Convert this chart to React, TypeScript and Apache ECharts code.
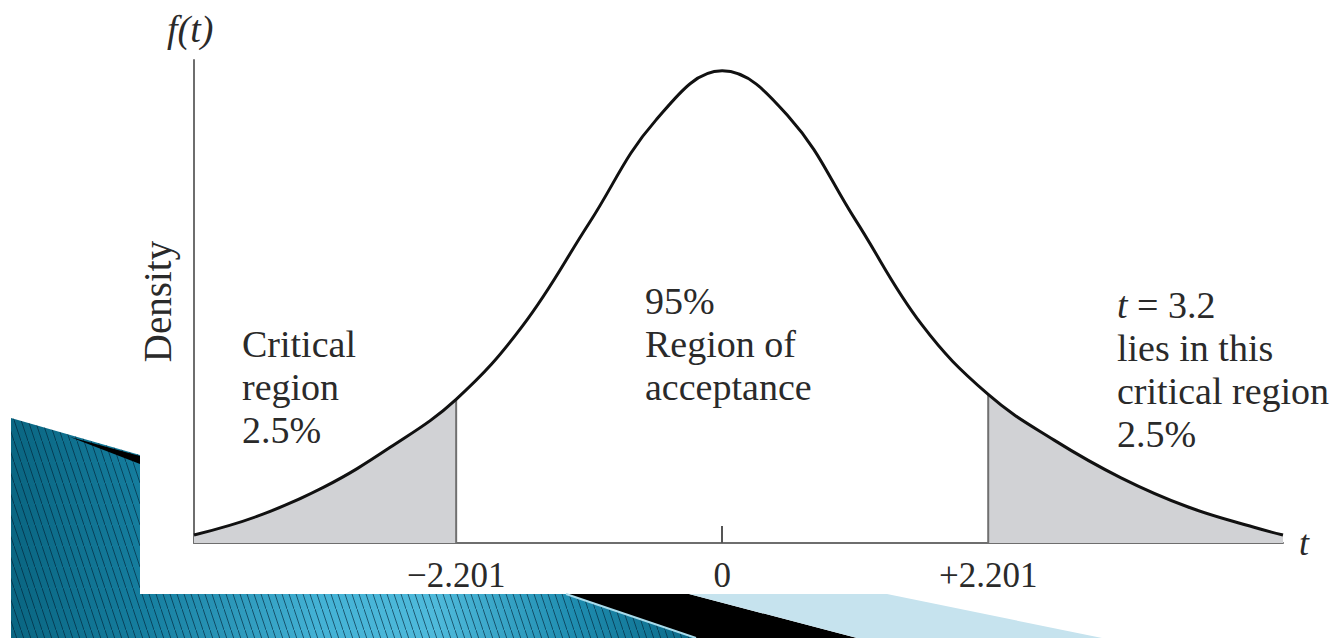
import React, { useEffect, useRef } from "react";
import * as echarts from "echarts";

// Curve: t value and density height
const tValues = [-4.37, -3.85, -3.3, -2.75, -2.201, -1.65, -1.1, -0.55, 0, 0.55, 1.1, 1.65, 2.201, 2.75, 3.3, 3.85, 4.4, 4.64];
const density = [0.0066, 0.022, 0.046, 0.079, 0.119, 0.18, 0.265, 0.35, 0.391, 0.353, 0.268, 0.181, 0.123, 0.085, 0.054, 0.03, 0.013, 0.0066];
const criticalValue = 2.201;
const tickValues = [-2.201, 0, 2.201];
const tickLabels = ["\u22122.201", "0", "+2.201"];
const markedTicks = [0];
const leftNote = ["Critical", "region", "2.5%"];
const middleNote = ["95%", "Region of", "acceptance"];
const rightNote = ["{i|t} = 3.2", "lies in this", "critical region", "2.5%"];

const FONT = '"Liberation Serif", "Times New Roman", serif';
const TEXT = "#2a2a2a";

export default function App() {
  const ref = useRef<HTMLDivElement>(null);
  useEffect(() => {
    if (!ref.current) return;
    const chart = echarts.init(ref.current, null, { renderer: "svg" });
    const curve = tValues.map((t, i) => [t, density[i]]);
    const leftTail = curve.filter((p) => p[0] <= -criticalValue + 1e-9);
    const rightTail = curve.filter((p) => p[0] >= criticalValue - 1e-9);
    const leftEdge = leftTail[leftTail.length - 1][1];
    const rightEdge = rightTail[0][1];

    const c = document.createElement("canvas");
    c.width = 7;
    c.height = 21;
    const ctx = c.getContext("2d");
    if (ctx) {
      ctx.strokeStyle = "rgba(0,30,50,0.6)";
      ctx.lineWidth = 1;
      ctx.beginPath();
      ctx.moveTo(0, 0);
      ctx.lineTo(7, 21);
      ctx.stroke();
    }
    const stripe = c.toDataURL();

    const tealPts = [[11, 418], [140, 455], [140, 594], [566, 594], [696, 638], [11, 638]];

    const textEl = (lines: string[], x: number, y: number, rich?: any) => ({
      type: "text",
      x,
      y,
      z: 10,
      style: {
        text: lines.join("\n"),
        fontFamily: FONT,
        fontSize: 38,
        lineHeight: 43,
        fill: TEXT,
        rich,
      },
    });

    chart.setOption({
      animation: false,
      backgroundColor: "#ffffff",
      grid: { left: 194, right: 60, top: 60, bottom: 95 },
      xAxis: {
        type: "value",
        min: -4.37,
        max: 4.64,
        name: "t",
        nameLocation: "end",
        nameGap: 16,
        nameTextStyle: { fontFamily: FONT, fontStyle: "italic", fontSize: 36, color: TEXT },
        axisLine: { show: true, onZero: false, lineStyle: { color: "#6e6e6e", width: 2 } },
        axisTick: { show: true, inside: true, length: 17, customValues: markedTicks, lineStyle: { color: "#555", width: 2 } },
        axisLabel: {
          show: true,
          customValues: tickValues,
          margin: 15,
          fontFamily: FONT,
          fontSize: 35,
          color: TEXT,
          formatter: (v: number) => {
            let best = 0;
            tickValues.forEach((tv, i) => {
              if (Math.abs(tv - v) < Math.abs(tickValues[best] - v)) best = i;
            });
            return tickLabels[best];
          },
        },
        splitLine: { show: false },
      },
      yAxis: {
        type: "value",
        min: 0,
        max: 0.4,
        name: "Density",
        nameLocation: "middle",
        nameRotate: 90,
        nameGap: 17,
        nameTextStyle: { fontFamily: FONT, fontSize: 39, color: TEXT },
        axisLine: { show: true, onZero: false, lineStyle: { color: "#6e6e6e", width: 2 } },
        axisTick: { show: false },
        axisLabel: { show: false },
        splitLine: { show: false },
      },
      series: [
        {
          type: "line",
          data: leftTail,
          smooth: 0.4,
          symbol: "none",
          lineStyle: { width: 0 },
          areaStyle: { color: "#d1d2d5", opacity: 1 },
          z: 1,
        },
        {
          type: "line",
          data: rightTail,
          smooth: 0.4,
          symbol: "none",
          lineStyle: { width: 0 },
          areaStyle: { color: "#d1d2d5", opacity: 1 },
          z: 1,
        },
        {
          type: "line",
          data: [[-criticalValue, 0], [-criticalValue, leftEdge]],
          symbol: "none",
          lineStyle: { color: "#707070", width: 2 },
          z: 2,
        },
        {
          type: "line",
          data: [[criticalValue, 0], [criticalValue, rightEdge]],
          symbol: "none",
          lineStyle: { color: "#707070", width: 2 },
          z: 2,
        },
        {
          type: "line",
          data: curve,
          smooth: 0.4,
          symbol: "none",
          lineStyle: { color: "#111", width: 3 },
          z: 3,
        },
      ],
      graphic: [
        {
          type: "polygon",
          z: 0,
          shape: { points: tealPts },
          style: {
            fill: new echarts.graphic.LinearGradient(0, 0, 1, 0, [
              { offset: 0, color: "#0a6682" },
              { offset: 0.2, color: "#167fa0" },
              { offset: 0.45, color: "#44b2d5" },
              { offset: 0.62, color: "#4fbadb" },
              { offset: 0.82, color: "#1f8db0" },
              { offset: 1, color: "#0b6a88" },
            ]),
          },
        },
        {
          type: "polygon",
          z: 0,
          shape: { points: tealPts },
          style: { fill: { image: stripe, repeat: "repeat", imageWidth: 7, imageHeight: 21 } as any },
        },
        {
          type: "polygon",
          z: 0,
          shape: { points: [[70, 437], [140, 456], [140, 464]] },
          style: { fill: "#000" },
        },
        {
          type: "polygon",
          z: 0,
          shape: { points: [[566, 594], [689, 594], [857, 638], [696, 638]] },
          style: { fill: "#000" },
        },
        {
          type: "line",
          z: 0,
          shape: { x1: 566, y1: 594, x2: 696, y2: 638 },
          style: { stroke: "#a8dcec", lineWidth: 2 },
        },
        {
          type: "polygon",
          z: 0,
          shape: { points: [[689, 594], [887, 594], [1102, 638], [857, 638]] },
          style: { fill: "#c6e3ee" },
        },
        {
          type: "text",
          x: 167,
          y: 10,
          z: 10,
          style: { text: "f(t)", fontFamily: FONT, fontStyle: "italic", fontSize: 38, fill: TEXT },
        },
        textEl(leftNote, 242, 322),
        textEl(middleNote, 645, 279),
        textEl(rightNote, 1117, 283, { i: { fontFamily: FONT, fontStyle: "italic", fontSize: 38, lineHeight: 43, fill: TEXT } }),
      ],
    });
    return () => chart.dispose();
  }, []);
  return <div ref={ref} style={{ position: "absolute", left: 0, top: 0, width: 1343, height: 638 }} />;
}
